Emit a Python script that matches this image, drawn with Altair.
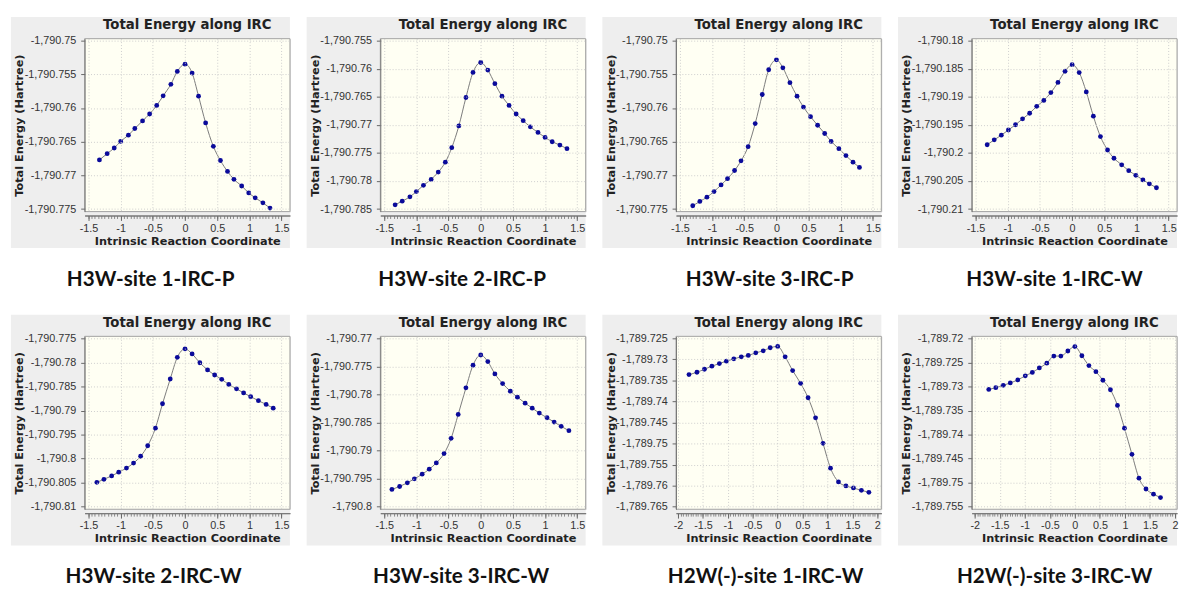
import altair as alt
import numpy as np
import pandas as pd

captions = [
    "H3W-site 1-IRC-P", "H3W-site 2-IRC-P", "H3W-site 3-IRC-P", "H3W-site 1-IRC-W",
    "H3W-site 2-IRC-W", "H3W-site 3-IRC-W", "H2W(-)-site 1-IRC-W", "H2W(-)-site 3-IRC-W",
]

# ---- Intrinsic reaction coordinate ----
x_p1 = [-1.33, -1.21, -1.10, -1.00, -0.88, -0.78, -0.66, -0.55, -0.44, -0.34, -0.22, -0.12, 0.0,
        0.11, 0.21, 0.32, 0.44, 0.55, 0.66, 0.76, 0.88, 0.99, 1.09, 1.21, 1.32]
x_p2 = [-1.33, -1.22, -1.10, -1.00, -0.89, -0.77, -0.66, -0.55, -0.45, -0.34, -0.23, -0.12, 0.0,
        0.11, 0.22, 0.33, 0.44, 0.55, 0.66, 0.77, 0.89, 1.00, 1.11, 1.23, 1.34]
x_p3 = [-1.30, -1.19, -1.08, -0.97, -0.86, -0.76, -0.65, -0.55, -0.44, -0.33, -0.22, -0.12, 0.0,
        0.10, 0.21, 0.32, 0.42, 0.53, 0.64, 0.75, 0.85, 0.97, 1.08, 1.19, 1.29]
x_p4 = [-1.32, -1.21, -1.10, -0.99, -0.88, -0.77, -0.66, -0.55, -0.44, -0.33, -0.22, -0.11, 0.0,
        0.11, 0.22, 0.33, 0.44, 0.55, 0.65, 0.77, 0.88, 0.99, 1.10, 1.20, 1.31]
x_p5 = [-1.37, -1.26, -1.14, -1.03, -0.91, -0.80, -0.69, -0.58, -0.46, -0.35, -0.23, -0.12, 0.0,
        0.11, 0.23, 0.35, 0.46, 0.57, 0.68, 0.80, 0.91, 1.02, 1.14, 1.26, 1.37]
x_p6 = [-1.38, -1.26, -1.14, -1.03, -0.91, -0.80, -0.69, -0.57, -0.46, -0.35, -0.23, -0.12, 0.0,
        0.11, 0.22, 0.34, 0.46, 0.57, 0.69, 0.80, 0.91, 1.03, 1.14, 1.25, 1.37]
x_p7 = [-1.78, -1.62, -1.47, -1.32, -1.17, -1.03, -0.88, -0.73, -0.59, -0.44, -0.29, -0.15, 0.0,
        0.15, 0.30, 0.46, 0.61, 0.76, 0.91, 1.06, 1.22, 1.37, 1.52, 1.68, 1.83]
x_p8 = [-1.72, -1.58, -1.43, -1.29, -1.14, -0.99, -0.85, -0.71, -0.56, -0.42, -0.28, -0.14, 0.0,
        0.14, 0.28, 0.42, 0.56, 0.71, 0.85, 0.99, 1.14, 1.28, 1.42, 1.57, 1.71]

# ---- Total energy (Hartree) ----
y_p1 = [-1790.76770, -1790.76677, -1790.76593, -1790.76495, -1790.76402, -1790.76304, -1790.76191,
        -1790.76088, -1790.75961, -1790.75819, -1790.75647, -1790.75456, -1790.75348, -1790.75480,
        -1790.75824, -1790.76221, -1790.76569, -1790.76779, -1790.76941, -1790.77059, -1790.77157,
        -1790.77260, -1790.77333, -1790.77407, -1790.77485]
y_p2 = [-1790.78424, -1790.78359, -1790.78282, -1790.78188, -1790.78077, -1790.77971, -1790.77841,
        -1790.77665, -1790.77406, -1790.77018, -1790.76512, -1790.76065, -1790.75888, -1790.76024,
        -1790.76265, -1790.76488, -1790.76653, -1790.76806, -1790.76924, -1790.77035, -1790.77135,
        -1790.77224, -1790.77300, -1790.77359, -1790.77424]
y_p3 = [-1790.77451, -1790.77387, -1790.77324, -1790.77240, -1790.77142, -1790.77049, -1790.76927,
        -1790.76784, -1790.76574, -1790.76230, -1790.75799, -1790.75431, -1790.75284, -1790.75402,
        -1790.75623, -1790.75824, -1790.75985, -1790.76128, -1790.76255, -1790.76378, -1790.76495,
        -1790.76603, -1790.76706, -1790.76804, -1790.76882]
y_p4 = [-1790.19854, -1790.19766, -1790.19684, -1790.19591, -1790.19497, -1790.19392, -1790.19292,
        -1790.19170, -1790.19064, -1790.18924, -1790.18743, -1790.18544, -1790.18427, -1790.18567,
        -1790.18912, -1790.19345, -1790.19708, -1790.19947, -1790.20094, -1790.20211, -1790.20316,
        -1790.20398, -1790.20480, -1790.20550, -1790.20620]
y_p5 = [-1790.80493, -1790.80430, -1790.80359, -1790.80282, -1790.80197, -1790.80092, -1790.79951,
        -1790.79732, -1790.79366, -1790.78859, -1790.78345, -1790.77894, -1790.77718, -1790.77824,
        -1790.78007, -1790.78155, -1790.78261, -1790.78352, -1790.78458, -1790.78549, -1790.78634,
        -1790.78711, -1790.78796, -1790.78873, -1790.78951]
y_p6 = [-1790.79692, -1790.79639, -1790.79574, -1790.79503, -1790.79420, -1790.79331, -1790.79219,
        -1790.79053, -1790.78781, -1790.78355, -1790.77882, -1790.77479, -1790.77296, -1790.77414,
        -1790.77633, -1790.77805, -1790.77941, -1790.78047, -1790.78154, -1790.78243, -1790.78331,
        -1790.78414, -1790.78491, -1790.78568, -1790.78645]
y_p7 = [-1789.73361, -1789.73305, -1789.73233, -1789.73161, -1789.73098, -1789.73042, -1789.72986,
        -1789.72938, -1789.72906, -1789.72843, -1789.72795, -1789.72723, -1789.72691, -1789.72938,
        -1789.73265, -1789.73568, -1789.73910, -1789.74388, -1789.74994, -1789.75584, -1789.75910,
        -1789.76006, -1789.76054, -1789.76110, -1789.76157]
y_p8 = [-1789.73061, -1789.73025, -1789.72976, -1789.72926, -1789.72863, -1789.72778, -1789.72707,
        -1789.72615, -1789.72516, -1789.72368, -1789.72368, -1789.72262, -1789.72170, -1789.72361,
        -1789.72566, -1789.72693, -1789.72870, -1789.73068, -1789.73393, -1789.73867, -1789.74411,
        -1789.74906, -1789.75132, -1789.75238, -1789.75309]

# ---- tick labels ----
y_ticks_p1 = [-1790.775, -1790.77, -1790.765, -1790.76, -1790.755, -1790.75]
y_ticks_p2 = [-1790.785, -1790.78, -1790.775, -1790.77, -1790.765, -1790.76, -1790.755]
y_ticks_p3 = [-1790.775, -1790.77, -1790.765, -1790.76, -1790.755, -1790.75]
y_ticks_p4 = [-1790.21, -1790.205, -1790.2, -1790.195, -1790.19, -1790.185, -1790.18]
y_ticks_p5 = [-1790.81, -1790.805, -1790.8, -1790.795, -1790.79, -1790.785, -1790.78, -1790.775]
y_ticks_p6 = [-1790.8, -1790.795, -1790.79, -1790.785, -1790.78, -1790.775, -1790.77]
y_ticks_p7 = [-1789.765, -1789.76, -1789.755, -1789.75, -1789.745, -1789.74, -1789.735, -1789.73, -1789.725]
y_ticks_p8 = [-1789.755, -1789.75, -1789.745, -1789.74, -1789.735, -1789.73, -1789.725, -1789.72]
x_ticks_15 = [-1.5, -1, -0.5, 0, 0.5, 1, 1.5]
x_ticks_2 = [-2, -1.5, -1, -0.5, 0, 0.5, 1, 1.5, 2]

xs = [x_p1, x_p2, x_p3, x_p4, x_p5, x_p6, x_p7, x_p8]
ys = [y_p1, y_p2, y_p3, y_p4, y_p5, y_p6, y_p7, y_p8]
y_ticks = [y_ticks_p1, y_ticks_p2, y_ticks_p3, y_ticks_p4, y_ticks_p5, y_ticks_p6, y_ticks_p7, y_ticks_p8]
x_ticks = [x_ticks_15] * 6 + [x_ticks_2] * 2
x_domains = [[-1.56, 1.63]] * 6 + [[-2.04, 2.08], [-2.06, 2.04]]
caption_dx = [0, 16, 28, 17, 3, 15, 24, 17]

W, H = 209, 176
TITLE_FONT = "DejaVu Sans"
LABEL_FONT = "Liberation Sans"
CAP_FONT = "Lato"
YLAB = "replace(format(datum.value, ',.8~g'), '\u2212', '-')"
XLAB = "replace(format(datum.value, '~g'), '\u2212', '-')"


def panel(i):
    df = pd.DataFrame({"x": xs[i], "y": ys[i]})
    lo, hi = min(y_ticks[i]), max(y_ticks[i])
    span = hi - lo
    ysc = alt.Scale(domain=[lo - 0.015 * span, hi + 0.012 * span], nice=False, zero=False)
    xsc = alt.Scale(domain=x_domains[i], nice=False, zero=False)
    x0, x1 = x_ticks[i][0], x_ticks[i][-1]
    minor_vals = [round(v, 2) for v in np.arange(x0, x1 + 0.001, 0.05)]

    yax = alt.Axis(values=y_ticks[i], labelExpr=YLAB, title="Total Energy (Hartree)",
                   titleFont=TITLE_FONT, titleFontSize=11.5, titleFontWeight="bold", titleColor="#222",
                   labelFont=LABEL_FONT, labelFontSize=11, labelColor="#333", labelPadding=5,
                   tickSize=4, tickColor="#666", domainColor="#777",
                   grid=True, gridColor="#cdcdcd", gridDash=[1, 2],
                   minExtent=61, maxExtent=61, titlePadding=0, zindex=1)
    xmajor = alt.Axis(values=x_ticks[i], labelExpr=XLAB, title="Intrinsic Reaction Coordinate",
                      orient="bottom", offset=4,
                      titleFont=TITLE_FONT, titleFontSize=11.5, titleFontWeight="bold", titleColor="#222",
                      labelFont=LABEL_FONT, labelFontSize=11, labelColor="#333", labelPadding=2,
                      tickSize=5, tickColor="#666", domainColor="#777", titlePadding=2,
                      grid=True, gridColor="#cdcdcd", gridDash=[1, 2], zindex=1)
    xminor = alt.Axis(values=minor_vals, labels=False, title=None, orient="bottom", offset=4,
                      tickSize=3, tickColor="#888", domainColor="#777", grid=False, zindex=1)

    one = alt.Chart(pd.DataFrame({"k": [0]}))
    bg = one.mark_rect(color="#eeeeee").encode(
        x=alt.value(-75), x2=alt.value(W), y=alt.value(-22), y2=alt.value(H + 37))
    plot = one.mark_rect(fill="#fffff3", stroke="#a0a0a0", strokeWidth=1).encode(
        x=alt.value(0), x2=alt.value(W), y=alt.value(0), y2=alt.value(H))
    base = alt.Chart(df)
    line = base.mark_line(color="#7a7a7a", strokeWidth=1, interpolate="monotone").encode(
        x=alt.X("x:Q", scale=xsc, axis=xminor), y=alt.Y("y:Q", scale=ysc, axis=yax))
    pts = base.mark_circle(color="#0a0a9a", size=24, opacity=1).encode(
        x=alt.X("x:Q", scale=xsc, axis=xmajor), y=alt.Y("y:Q", scale=ysc, axis=yax))
    lay = alt.layer(bg, plot, line, pts).resolve_axis(x="independent").properties(
        width=W, height=H,
        title=alt.TitleParams("Total Energy along IRC", font=TITLE_FONT, fontSize=13.5,
                              fontWeight="bold", anchor="middle", frame="group", offset=-15,
                              color="#222", zindex=1))
    return alt.vconcat(lay, title=alt.TitleParams(captions[i], orient="bottom", anchor="middle",
                                                  font=CAP_FONT, fontSize=21, fontWeight="bold",
                                                  color="#111", offset=21, dx=caption_dx[i]))


row1 = alt.hconcat(*[panel(i) for i in range(4)], spacing=15)
row2 = alt.hconcat(*[panel(i) for i in range(4, 8)], spacing=15)
chart = alt.vconcat(row1, row2, spacing=24).properties(
    padding={"left": 2, "top": 3, "right": 0, "bottom": 0}
).configure_view(stroke=None).configure(background="white")

chart.save("out.html", embed_options={"renderer": "svg", "actions": False})
